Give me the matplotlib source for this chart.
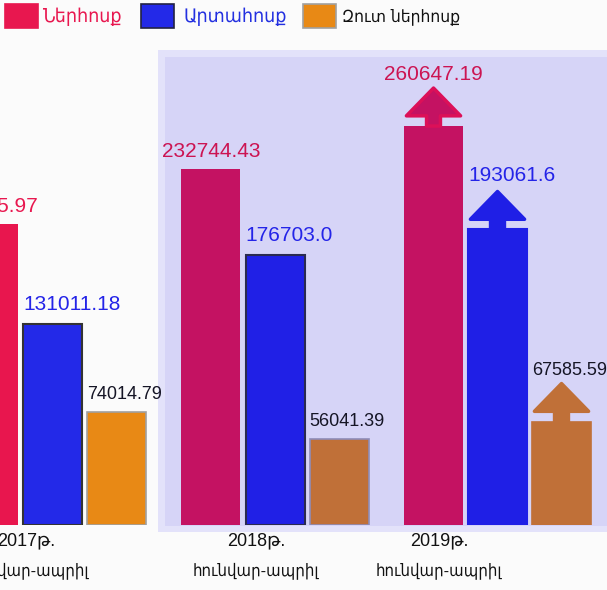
import numpy as np
import matplotlib
matplotlib.use("Agg")
import matplotlib.pyplot as plt
from matplotlib.patches import Rectangle, FancyArrowPatch

plt.rcParams['font.family'] = ['Liberation Sans', 'DejaVu Sans']

# data
years = ["2017թ.\nհունվար-ապրիլ", "2018թ.\nհունվար-ապրիլ", "2019թ.\nհունվար-ապրիլ"]
series = ["Ներհոսք", "Արտահոսք", "Զուտ ներհոսք"]
inflow = [196885.97, 232744.43, 260647.19]
outflow = [131011.18, 176703.0, 193061.6]
net_inflow = [74014.79, 56041.39, 67585.59]
growth_arrow = [False, False, True]   # 2019 bars carry an up arrow

W, H = 607, 590
fig = plt.figure(figsize=(W / 100, H / 100), dpi=100)
fig.patch.set_facecolor("#fbfbfb")

def fx(px):
    return px / W

def fy(py):
    return 1 - py / H

# lavender highlight behind 2018-2019
fig.add_artist(Rectangle((fx(158), fy(532)), fx(W - 158), (532 - 50) / H,
                         transform=fig.transFigure, facecolor="#e3e2fa", edgecolor="none", zorder=0))
fig.add_artist(Rectangle((fx(165), fy(526)), fx(W - 165), (526 - 57) / H,
                         transform=fig.transFigure, facecolor="#d6d4f7", edgecolor="none", zorder=0))

base_px = 525
ax = fig.add_axes([0, (H - base_px) / H, 1, base_px / H])
ax.set_facecolor("none")
ymax = 343000
ax.set_ylim(0, ymax)
group_px = 222.5
ax.set_xlim(-52.5 / group_px, (W - 52.5) / group_px)
for s in ax.spines.values():
    s.set_visible(False)
ax.set_yticks([])

x = np.arange(len(years))
pitch = 64 / group_px
width = 59 / group_px

red_c = ["#e8164e", "#c41262", "#c41262"]
blue_c = ["#2329e8", "#2020e6", "#1f1fe6"]
blue_e = ["#333333", "#2a2a50", "#1f1fe6"]
orange_c = ["#e88915", "#c07038", "#c07038"]
orange_e = ["#a0a0a0", "#8e8cb8", "#c07038"]
red_txt = ["#e8174f", "#cc1452", "#cc1452"]

ax.bar(x - pitch, inflow, width, color=red_c, edgecolor="none", zorder=2)
ax.bar(x, outflow, width, color=blue_c, edgecolor=blue_e, linewidth=1.5, zorder=2)
ax.bar(x + pitch, net_inflow, width, color=orange_c, edgecolor=orange_e, linewidth=1.2, zorder=2)

px_per_unit = base_px / ymax
arrow_len = 38 / px_per_unit

def arrow(xc, val, color, edge):
    a = FancyArrowPatch((xc, val), (xc, val + arrow_len),
                        arrowstyle="simple,head_length=20,head_width=39,tail_width=10",
                        mutation_scale=1, shrinkA=0, shrinkB=0,
                        facecolor=color, edgecolor=edge, linewidth=2.5,
                        joinstyle="round", zorder=3)
    ax.add_patch(a)

for i in range(len(years)):
    top_r, top_b, top_o = inflow[i], outflow[i], net_inflow[i]
    if growth_arrow[i]:
        arrow(x[i] - pitch, inflow[i], red_c[i], "#dc1058")
        arrow(x[i], outflow[i], blue_c[i], blue_c[i])
        arrow(x[i] + pitch, net_inflow[i], orange_c[i], orange_c[i])
        top_r += arrow_len
        top_b += arrow_len
        top_o += arrow_len
        gap = 4
    else:
        gap = 8
    ax.annotate(f"{inflow[i]}", (x[i] - pitch, top_r), xytext=(0, gap), textcoords="offset pixels",
                ha="center", va="bottom", fontsize=15, color=red_txt[i], zorder=4,
                annotation_clip=False)
    ax.annotate(f"{outflow[i]}", (x[i] - width / 2, top_b), xytext=(0, gap + 2), textcoords="offset pixels",
                ha="left", va="bottom", fontsize=15, color="#2424e8", zorder=4, annotation_clip=False)
    ax.annotate(f"{net_inflow[i]}", (x[i] + pitch - width / 2, top_o), xytext=(0, gap + 1),
                textcoords="offset pixels", ha="left", va="bottom", fontsize=13, color="#151525",
                zorder=4, annotation_clip=False)

# period labels under the groups (year line + months line)
label_x = x + np.array([-0.12, -0.085, -0.263])
for lx, lab in zip(label_x, years):
    yr, months = lab.split("\n")
    ax.annotate(yr, (lx, 0), xytext=(0, -7), textcoords="offset pixels", ha="center", va="top",
                fontsize=13, color="#111111", annotation_clip=False)
    ax.annotate(months, (lx, 0), xytext=(0, -37), textcoords="offset pixels", ha="center", va="top",
                fontsize=12, color="#111111", fontstretch="condensed", annotation_clip=False)
ax.set_xticks([])

# legend
leg_txt_c = ["#e8174f", "#2330e0", "#111111"]
leg_fc = ["#e8174f", "#2329e8", "#e88915"]
leg_ec = ["#e8174f", "#222244", "#a0a0a0"]
sq_x = [5, 141, 303]
tx_x = [42, 183, 342]
leg_fs = [14, 14, 12.5]
for i, name in enumerate(series):
    fig.add_artist(Rectangle((fx(sq_x[i]), fy(28)), fx(33), 24 / H, transform=fig.transFigure,
                             facecolor=leg_fc[i], edgecolor=leg_ec[i], linewidth=1.2))
    fig.text(fx(tx_x[i]), fy(17), name, fontsize=leg_fs[i], color=leg_txt_c[i], va="center", ha="left",
             fontstretch="condensed")

fig.savefig("out.png", dpi=100, facecolor=fig.get_facecolor())
